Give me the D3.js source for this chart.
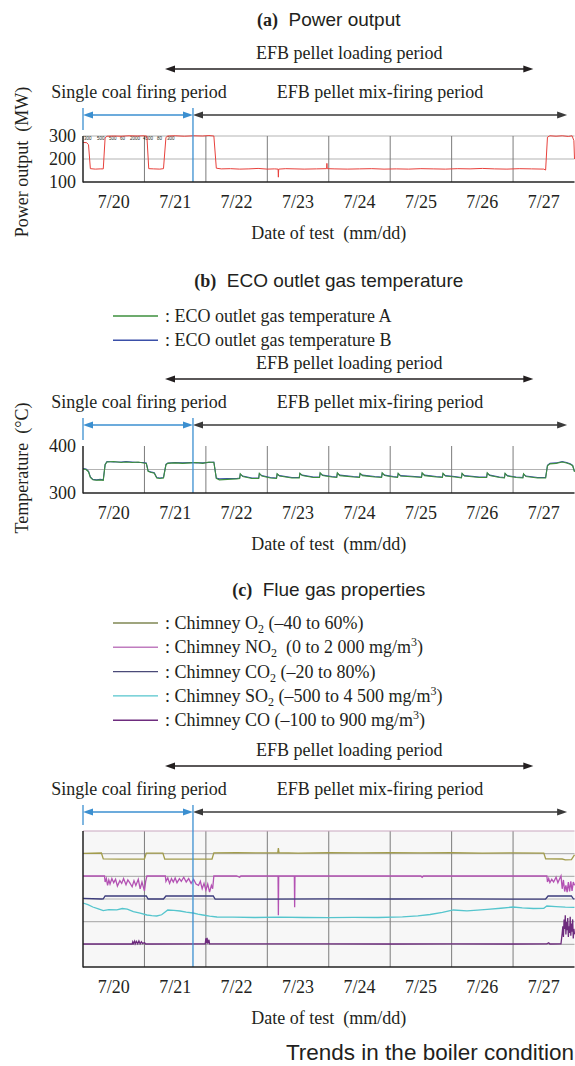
<!DOCTYPE html>
<html>
<head>
<meta charset="utf-8">
<script src="https://cdn.jsdelivr.net/npm/d3@7"></script>
<style>
  body { margin: 0; background: #fff; }
  svg text { font-family: "Liberation Serif", "Times New Roman", serif; fill: #231f20; }
  svg text.sans { font-family: "Liberation Sans", Arial, sans-serif; }
</style>
</head>
<body>
<div id="viz"></div>
<script>
// days counted from 7/20 00:00
var dayLabels = ["7/20", "7/21", "7/22", "7/23", "7/24", "7/25", "7/26", "7/27"];
var gridDays = [1, 2, 3, 4, 5, 6, 7];

// periods (in days)
var loadingPeriod = [1.335, 7.33];
var singleCoalPeriod = [0, 1.79];
var mixFiringPeriod = [1.79, 7.88];

// (a) power output, MW
var powerTicks = [100, 200, 300];
var powerOut = [[0,272],[0.06,271],[0.09,262],[0.12,158],[0.2,156],[0.28,157],[0.33,157],[0.36,292],[0.39,299],[0.5,300],[0.62,299],[0.75,301],[0.88,300],[1.0,301],[1.04,299],[1.07,158],[1.15,157],[1.25,156],[1.31,158],[1.35,294],[1.38,300],[1.5,301],[1.65,299],[1.8,301],[1.95,300],[2.05,302],[2.13,300],[2.17,160],[2.25,157],[2.4,158],[2.55,156],[2.7,157],[2.85,159],[3.0,156],[3.12,157],[3.175,156],[3.18,121],[3.185,156],[3.3,158],[3.45,157],[3.6,156],[3.8,157],[3.965,158],[3.97,181],[3.975,158],[4.1,157],[4.3,156],[4.5,157],[4.7,158],[4.9,156],[5.1,157],[5.3,156],[5.5,158],[5.7,157],[5.9,156],[6.1,158],[6.3,157],[6.5,159],[6.7,157],[6.9,156],[7.1,158],[7.3,157],[7.5,156],[7.53,152],[7.56,295],[7.6,301],[7.7,299],[7.8,301],[7.9,298],[7.96,301],[7.99,280],[8.0,200]];
var daqLabels = ["300", "500", "500", "60", "2000", "4500", "80", "300"];
var daqColors = ["#e8413c", "#6cb86c", "#5a6ac0", "#a8a050", "#b455b5", "#52c4cc", "#5a5ab0", "#e8413c"];

// (b) ECO outlet gas temperature, °C
var tempTicks = [300, 400];
var tempA = [[0,351],[0.05,350],[0.09,345],[0.12,333],[0.16,328],[0.22,327],[0.28,328],[0.33,327],[0.36,360],[0.39,366],[0.5,367],[0.62,365],[0.7,366],[0.8,365],[0.9,366],[0.98,364],[1.03,363],[1.06,346],[1.1,344],[1.16,342],[1.2,332],[1.25,331],[1.31,332],[1.35,360],[1.38,363],[1.5,364],[1.62,363],[1.75,364],[1.85,365],[1.95,363],[2.05,366],[2.13,365],[2.17,331],[2.22,328],[2.35,329],[2.5,330],[2.55,331],[2.56,341],[2.6,335],[2.75,331],[2.86,331],[2.87,342],[2.91,336],[3.05,332],[3.15,331],[3.16,341],[3.2,336],[3.4,332],[3.52,332],[3.53,342],[3.57,337],[3.75,333],[3.85,333],[3.86,343],[3.9,337],[4.05,334],[4.13,333],[4.14,343],[4.18,337],[4.4,334],[4.5,333],[4.51,342],[4.55,337],[4.75,334],[4.86,333],[4.87,343],[4.91,337],[5.05,334],[5.12,333],[5.13,342],[5.17,336],[5.4,334],[5.51,333],[5.52,343],[5.56,337],[5.75,334],[5.85,333],[5.86,342],[5.9,336],[6.05,334],[6.16,332],[6.17,342],[6.21,336],[6.45,333],[6.57,333],[6.58,343],[6.62,337],[6.78,333],[6.86,332],[6.87,342],[6.91,336],[7.05,333],[7.16,332],[7.17,341],[7.21,335],[7.4,332],[7.53,332],[7.56,358],[7.6,362],[7.7,363],[7.8,366],[7.87,364],[7.93,361],[7.97,358],[8.0,345]];
var tempB = [[0,352],[0.05,351],[0.09,346],[0.12,334],[0.16,329],[0.22,328],[0.28,329],[0.33,328],[0.36,361],[0.39,367],[0.5,366],[0.62,366],[0.7,367],[0.8,366],[0.9,365],[0.98,365],[1.03,364],[1.06,347],[1.1,345],[1.16,343],[1.2,333],[1.25,332],[1.31,333],[1.35,361],[1.38,364],[1.5,365],[1.62,364],[1.75,365],[1.85,364],[1.95,364],[2.05,365],[2.13,366],[2.17,332],[2.22,330],[2.35,331],[2.5,331],[2.55,332],[2.56,340],[2.6,336],[2.75,332],[2.86,332],[2.87,341],[2.91,337],[3.05,333],[3.15,332],[3.16,340],[3.2,337],[3.4,333],[3.52,333],[3.53,341],[3.57,338],[3.75,334],[3.85,334],[3.86,342],[3.9,338],[4.05,335],[4.13,334],[4.14,342],[4.18,338],[4.4,335],[4.5,334],[4.51,341],[4.55,338],[4.75,335],[4.86,334],[4.87,342],[4.91,338],[5.05,335],[5.12,334],[5.13,341],[5.17,337],[5.4,335],[5.51,334],[5.52,342],[5.56,338],[5.75,335],[5.85,334],[5.86,341],[5.9,337],[6.05,335],[6.16,333],[6.17,341],[6.21,337],[6.45,334],[6.57,334],[6.58,342],[6.62,338],[6.78,334],[6.86,333],[6.87,341],[6.91,337],[7.05,334],[7.16,333],[7.17,340],[7.21,336],[7.4,333],[7.53,333],[7.56,359],[7.6,363],[7.7,364],[7.8,367],[7.87,365],[7.93,362],[7.97,359],[8.0,346]];

// (c) flue gas properties, each in its own range
var o2Range = [-40, 60];
var no2Range = [0, 2000];
var co2Range = [-20, 80];
var so2Range = [-500, 4500];
var coRange = [-100, 900];
var o2 = [[0,43.6],[0.3,43.8],[0.33,39.5],[0.6,39.3],[1.0,39.4],[1.03,43.8],[1.3,43.7],[1.33,39.4],[1.7,39.3],[2.1,39.4],[2.13,43.9],[2.5,44.0],[2.9,43.9],[3.17,44.0],[3.18,47.5],[3.19,44.0],[3.5,43.8],[4.0,44.0],[4.5,43.9],[5.0,44.0],[5.5,43.9],[6.0,44.0],[6.5,43.8],[7.0,43.9],[7.5,43.8],[7.53,39.6],[7.8,39.4],[7.85,38.8],[7.95,39.0],[8.0,42.5]];
var no2 = [[0,1338],[0.35,1338],[0.36,1250],[0.38,1300],[0.4,1200],[0.42,1280],[0.44,1220],[0.47,1300],[0.5,1240],[0.53,1290],[0.56,1190],[0.6,1270],[0.63,1230],[0.66,1300],[0.7,1210],[0.73,1280],[0.76,1240],[0.8,1180],[0.83,1270],[0.86,1200],[0.9,1290],[0.93,1150],[0.96,1250],[1.0,1120],[1.02,1260],[1.04,1338],[1.34,1338],[1.35,1260],[1.38,1310],[1.41,1230],[1.44,1300],[1.47,1250],[1.5,1310],[1.53,1240],[1.57,1300],[1.6,1260],[1.64,1320],[1.68,1250],[1.72,1300],[1.76,1230],[1.8,1290],[1.84,1220],[1.88,1200],[1.91,1260],[1.94,1150],[1.97,1230],[2.0,1130],[2.03,1220],[2.06,1100],[2.09,1200],[2.11,1150],[2.13,1338],[2.5,1338],[2.55,1320],[2.57,1338],[3.175,1338],[3.18,760],[3.185,1338],[3.44,1338],[3.445,880],[3.45,1338],[5.5,1338],[5.52,1320],[5.54,1338],[7.55,1338],[7.56,1250],[7.58,1300],[7.6,1240],[7.63,1290],[7.66,1250],[7.7,1320],[7.73,1240],[7.76,1300],[7.78,1338],[7.8,1150],[7.82,1280],[7.84,1110],[7.86,1200],[7.88,1100],[7.9,1250],[7.92,1110],[7.94,1260],[7.96,1120],[7.98,1250],[8.0,1200]];
var co2 = [[0,30.5],[0.3,30.0],[0.33,30.1],[0.36,32.2],[1.03,32.2],[1.06,30.0],[1.31,30.0],[1.35,32.2],[2.12,32.3],[2.15,30.0],[3.0,29.9],[4.0,30.1],[5.0,30.0],[6.0,30.1],[7.0,29.9],[7.53,30.0],[7.57,32.2],[7.95,32.3],[7.98,30.2],[8.0,30.0]];
var so2 = [[0,1853],[0.08,1790],[0.16,1706],[0.25,1640],[0.33,1570],[0.42,1610],[0.55,1600],[0.64,1650],[0.72,1630],[0.82,1540],[0.93,1485],[1.04,1412],[1.12,1390],[1.2,1375],[1.28,1420],[1.38,1596],[1.48,1580],[1.58,1559],[1.68,1520],[1.79,1485],[1.87,1440],[1.95,1412],[2.06,1370],[2.18,1338],[2.44,1330],[2.8,1320],[3.2,1330],[3.6,1320],[4.0,1315],[4.4,1325],[4.8,1320],[5.2,1340],[5.45,1380],[5.65,1430],[5.85,1510],[6.03,1596],[6.25,1560],[6.42,1590],[6.58,1620],[6.8,1660],[7.0,1706],[7.15,1670],[7.33,1650],[7.5,1660],[7.55,1743],[7.7,1720],[7.85,1700],[8.0,1690]];
var co = [[0,69],[0.8,69],[0.81,85],[0.82,72],[0.84,90],[0.85,70],[0.87,88],[0.89,71],[0.91,92],[0.93,70],[0.95,86],[0.97,72],[1.0,80],[1.02,69],[1.99,70],[2.0,110],[2.01,75],[2.02,115],[2.03,72],[2.05,100],[2.06,70],[4.0,70],[5.0,69],[6.0,70],[7.0,69],[7.55,70],[7.58,78],[7.6,69],[7.78,70],[7.8,150],[7.81,200],[7.82,120],[7.83,250],[7.84,180],[7.85,280],[7.86,140],[7.87,230],[7.88,170],[7.89,260],[7.9,120],[7.91,200],[7.92,150],[7.93,270],[7.94,130],[7.95,220],[7.96,160],[7.97,250],[7.98,110],[7.99,180],[8.0,140]];

var gasSeries = [
  { label: ": Chimney O_2 (\u201340 to 60%)", data: o2, range: o2Range, color: "#a29c4c", legend: "#7f8753" },
  { label: ": Chimney NO_2\u00a0 (0 to 2\u00a0000 mg/m^3)", data: no2, range: no2Range, color: "#b352b3", legend: "#c07cbf" },
  { label: ": Chimney CO_2 (\u201320 to 80%)", data: co2, range: co2Range, color: "#3c3c7c", legend: "#4a4a78" },
  { label: ": Chimney SO_2 (\u2013500 to 4\u00a0500 mg/m^3)", data: so2, range: so2Range, color: "#55c5cd", legend: "#55c5cd" },
  { label: ": Chimney CO (\u2013100 to 900 mg/m^3)", data: co, range: coRange, color: "#6e2c7e", legend: "#6e2c7e" }
];
// B drawn first so A (green) sits on top
var tempSeries = [
  { label: ": ECO outlet gas temperature A", data: tempA, color: "#3d8f3d" },
  { label: ": ECO outlet gas temperature B", data: tempB, color: "#3a4fa8" }
];

var fs = 18;
var blue = "#3b8fd0";
var svg = d3.select("#viz").append("svg").attr("width", 575).attr("height", 1066);
var x = d3.scaleLinear().domain([0, 8]).range([83, 574.5]);
var midX = (x(0) + x(8)) / 2;

// text with _n subscripts and ^n superscripts
function richText(t, s) {
  var back = 0;
  s.split(/([_^]\d)/).forEach(function (part) {
    if (part === "") return;
    if (part[0] === "_" || part[0] === "^") {
      var dy = part[0] === "_" ? 4 : -7;
      t.append("tspan").attr("dy", dy + back).style("font-size", "12px").text(part[1]);
      back = -dy;
    } else {
      t.append("tspan").attr("dy", back).text(part);
      back = 0;
    }
  });
}

function title(y, letter, name) {
  var t = svg.append("text").attr("x", midX).attr("y", y).attr("text-anchor", "middle");
  t.append("tspan").style("font-weight", "bold").style("font-size", fs + "px").text(letter);
  t.append("tspan").style("font-family", "'Liberation Sans', Arial, sans-serif")
    .style("font-size", "19px").text("\u00a0 " + name);
}

function legend(series, y0, colorKey) {
  var g = svg.append("g");
  series.forEach(function (s, i) {
    var y = y0 + i * 24.3;
    g.append("line").attr("x1", 113).attr("x2", 158).attr("y1", y - 6).attr("y2", y - 6)
      .attr("stroke", s[colorKey]).attr("stroke-width", 1.4);
    var t = g.append("text").attr("x", 165).attr("y", y).style("font-size", fs + "px");
    richText(t, s.label);
  });
}

function head(g, xTip, y, dir, color) {
  var b = xTip - dir * 10;
  g.append("path").attr("d", "M" + xTip + "," + y + "L" + b + "," + (y - 3.6) + "L" + b + "," + (y + 3.6) + "Z")
    .attr("fill", color);
}

function arrow(g, a, b, y, color, w) {
  g.append("line").attr("x1", x(a) + 4).attr("x2", x(b) - 4).attr("y1", y).attr("y2", y)
    .attr("stroke", color).attr("stroke-width", w);
  head(g, x(a), y, -1, color);
  head(g, x(b), y, 1, color);
}

// period annotations above each panel
function periods(off, top, bottom) {
  var g = svg.append("g");
  g.append("text").attr("x", x((loadingPeriod[0] + loadingPeriod[1]) / 2)).attr("y", off + 59)
    .attr("text-anchor", "middle").style("font-size", fs + "px").text("EFB pellet loading period");
  arrow(g, loadingPeriod[0], loadingPeriod[1], off + 69, "#231f20", 1.3);
  g.append("text").attr("x", 139).attr("y", off + 98).attr("text-anchor", "middle")
    .style("font-size", fs + "px").text("Single coal firing period");
  g.append("text").attr("x", 380).attr("y", off + 98).attr("text-anchor", "middle")
    .style("font-size", fs + "px").text("EFB pellet mix-firing period");
  arrow(g, singleCoalPeriod[0], singleCoalPeriod[1], off + 115, blue, 1.5);
  arrow(g, mixFiringPeriod[0], mixFiringPeriod[1], off + 115, "#3a3a3a", 1.7);
  g.append("line").attr("x1", x(0)).attr("x2", x(0)).attr("y1", off + 108).attr("y2", top - 6)
    .attr("stroke", blue).attr("stroke-width", 1.3);
  return function () {
    svg.append("line").attr("x1", x(singleCoalPeriod[1])).attr("x2", x(singleCoalPeriod[1]))
      .attr("y1", off + 108).attr("y2", bottom).attr("stroke", blue).attr("stroke-width", 1.3);
  };
}

function frame(top, bottom, hGrid, fill) {
  var g = svg.append("g");
  if (fill) g.append("rect").attr("x", x(0)).attr("y", top).attr("width", x(8) - x(0))
    .attr("height", bottom - top).attr("fill", fill);
  g.selectAll(".hg").data(hGrid).enter().append("line")
    .attr("x1", x(0)).attr("x2", x(8)).attr("y1", function (d) { return d; }).attr("y2", function (d) { return d; })
    .attr("stroke", "#b3b3b3").attr("stroke-width", 1.2);
  g.selectAll(".vg").data(gridDays).enter().append("line")
    .attr("x1", function (d) { return x(d); }).attr("x2", function (d) { return x(d); })
    .attr("y1", top).attr("y2", bottom).attr("stroke", "#7c7c7c").attr("stroke-width", 1);
  g.selectAll(".xl").data(dayLabels).enter().append("text")
    .attr("x", function (d, i) { return x(i + 0.5); }).attr("y", bottom + 26)
    .attr("text-anchor", "middle").style("font-size", fs + "px").text(function (d) { return d; });
  g.append("text").attr("x", midX).attr("y", bottom + 57).attr("text-anchor", "middle")
    .style("font-size", fs + "px").text("Date of test\u00a0\u00a0(mm/dd)");
}

function axes(top, bottom) {
  svg.append("line").attr("x1", x(0)).attr("x2", x(0)).attr("y1", top).attr("y2", bottom + 0.5)
    .attr("stroke", "#222").attr("stroke-width", 1.5);
  svg.append("line").attr("x1", x(0)).attr("x2", x(8)).attr("y1", bottom).attr("y2", bottom)
    .attr("stroke", "#222").attr("stroke-width", 1.5);
}

function yTitle(cy, txt) {
  svg.append("text").attr("transform", "translate(28," + cy + ") rotate(-90)")
    .attr("text-anchor", "middle").style("font-size", fs + "px").text(txt);
}

function yTicks(scale, ticks) {
  svg.append("g").attr("transform", "translate(" + x(0) + ",0)")
    .call(d3.axisLeft(scale).tickValues(ticks).tickSize(0).tickPadding(7).tickFormat(d3.format("d")))
    .call(function (g) { g.select(".domain").remove(); })
    .selectAll("text").style("font-size", fs + "px").style("font-family", "'Liberation Serif', serif")
    .attr("fill", "#231f20");
}

// ---------- (a) Power output ----------
title(26, "(a)", "Power output");
var aTop = 136, aBot = 182;
var yPow = d3.scaleLinear().domain([100, 300]).range([aBot, aTop]);
var blueA = periods(0, aTop, aBot);
frame(aTop, aBot, powerTicks.slice(1).map(yPow), null);
svg.selectAll(".daq").data(daqLabels).enter().append("text")
  .attr("x", function (d, i) { return [84, 97, 109, 120, 130, 143, 157, 167][i]; }).attr("y", aTop + 4)
  .style("font-size", "4.5px").style("font-family", "'Liberation Sans', sans-serif")
  .attr("fill", function (d, i) { return daqColors[i]; }).text(function (d) { return d; });
svg.append("path").datum(powerOut)
  .attr("d", d3.line().x(function (d) { return x(d[0]); }).y(function (d) { return yPow(d[1]); }))
  .attr("fill", "none").attr("stroke", "#e8413c").attr("stroke-width", 1);
blueA();
axes(aTop, aBot);
yTicks(yPow, powerTicks);
yTitle(162, "Power output\u00a0\u00a0(MW)");

// ---------- (b) ECO outlet gas temperature ----------
title(287, "(b)", "ECO outlet gas temperature");
legend(tempSeries, 322, "color");
var bTop = 446, bBot = 493;
var yTemp = d3.scaleLinear().domain([300, 400]).range([bBot, bTop]);
var blueB = periods(310, bTop, bBot);
frame(bTop, bBot, [yTemp(350)], null);
tempSeries.slice().reverse().forEach(function (s) {
  svg.append("path").datum(s.data)
    .attr("d", d3.line().x(function (d) { return x(d[0]); }).y(function (d) { return yTemp(d[1]); }))
    .attr("fill", "none").attr("stroke", s.color).attr("stroke-width", 1.1);
});
blueB();
axes(bTop, bBot);
yTicks(yTemp, tempTicks);
yTitle(468, "Temperature\u00a0\u00a0(\u00b0C)");

// ---------- (c) Flue gas properties ----------
title(596, "(c)", "Flue gas properties");
legend(gasSeries, 629, "legend");
var cTop = 831, cBot = 967;
var blueC = periods(697, cTop, cBot);
var cGrid = d3.range(1, 6).map(function (i) { return cTop + (cBot - cTop) * i / 6; });
frame(cTop, cBot, cGrid, "#f7f7f7");
svg.append("line").attr("x1", x(0)).attr("x2", x(8)).attr("y1", cTop).attr("y2", cTop)
  .attr("stroke", "#c9a7bf").attr("stroke-width", 1.2);
gasSeries.forEach(function (s) {
  var y = d3.scaleLinear().domain(s.range).range([cBot, cTop]);
  svg.append("path").datum(s.data)
    .attr("d", d3.line().x(function (d) { return x(d[0]); }).y(function (d) { return y(d[1]); }))
    .attr("fill", "none").attr("stroke", s.color).attr("stroke-width", 1.3);
});
blueC();
axes(cTop, cBot);

svg.append("text").attr("x", 574).attr("y", 1060).attr("text-anchor", "end")
  .style("font-family", "'Liberation Sans', Arial, sans-serif").style("font-size", "22.5px")
  .text("Trends in the boiler condition");
</script>
</body>
</html>
